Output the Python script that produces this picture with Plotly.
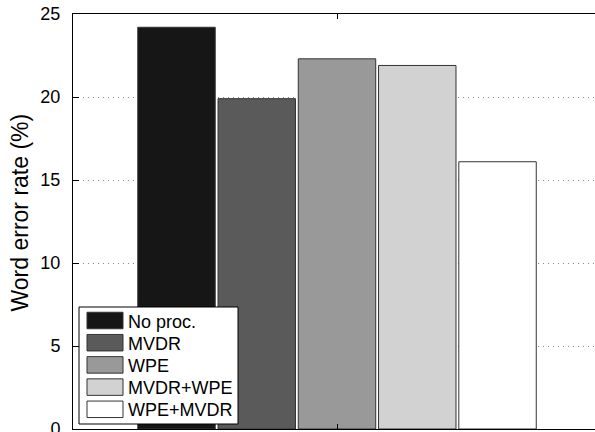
import plotly.graph_objects as go

# Word error rate per processing configuration
methods = ["No proc.", "MVDR", "WPE", "MVDR+WPE", "WPE+MVDR"]
wer = [24.2, 19.9, 22.3, 21.9, 16.1]
colors = ["#161616", "#5a5a5a", "#989998", "#d2d2d2", "#ffffff"]
y_ticks = [0, 5, 10, 15, 20, 25]

W, H = 595, 432
M_L, M_R, M_T, M_B = 73, 0, 14, 3
FONT = "Liberation Sans, Arial, Helvetica, sans-serif"

fig = go.Figure()
for name, val, col in zip(methods, wer, colors):
    fig.add_trace(go.Bar(
        x=[""], y=[val], name=name,
        marker=dict(color=col, line=dict(color="#333333", width=1)),
        showlegend=False,
    ))

# pixel -> paper helpers for the boxed legend
pw = W - M_L - M_R
ph = H - M_T - M_B


def px_x(px):
    return (px - M_L) / pw


def px_y(py):
    return (H - M_B - py) / ph


shapes = []
annotations = []

# legend frame
shapes.append(dict(type="rect", xref="paper", yref="paper",
                   x0=px_x(79), x1=px_x(238), y0=px_y(424), y1=px_y(307),
                   fillcolor="white", line=dict(color="black", width=1),
                   layer="above"))
row0, row_step, sw_h = 320.5, 22.2, 16.5
for i, (name, col) in enumerate(zip(methods, colors)):
    cy = row0 + i * row_step
    shapes.append(dict(type="rect", xref="paper", yref="paper",
                       x0=px_x(87), x1=px_x(123),
                       y0=px_y(cy + sw_h / 2), y1=px_y(cy - sw_h / 2),
                       fillcolor=col, line=dict(color="#333333", width=1),
                       layer="above"))
    annotations.append(dict(xref="paper", yref="paper", x=px_x(126), y=px_y(cy + 1),
                            text=name, showarrow=False, xanchor="left", yanchor="middle",
                            font=dict(family=FONT, size=18, color="black")))

# y-axis title
annotations.append(dict(xref="paper", yref="paper", x=px_x(19), y=px_y(212.5),
                        text="Word error rate (%)", textangle=-90, showarrow=False,
                        xanchor="center", yanchor="middle",
                        font=dict(family=FONT, size=23, color="black")))

fig.update_layout(
    width=W, height=H,
    margin=dict(l=M_L, r=M_R, t=M_T, b=M_B, pad=0, autoexpand=False),
    paper_bgcolor="white", plot_bgcolor="white",
    barmode="group", bargap=0.24, bargroupgap=0.035,
    showlegend=False,
    shapes=shapes, annotations=annotations,
    font=dict(family=FONT, size=18, color="black"),
)
fig.update_xaxes(
    type="category", range=[-0.5, 0.4886], automargin=False,
    showline=True, linecolor="black", linewidth=1, mirror="ticks",
    ticks="inside", ticklen=5, tickcolor="black",
    showticklabels=False, showgrid=False, zeroline=False,
)
fig.update_yaxes(
    range=[0, 25], tickvals=y_ticks, automargin=False,
    showline=True, linecolor="black", linewidth=1,
    ticks="inside", ticklen=6, tickcolor="black",
    ticklabelstandoff=8, ticklabeloverflow="allow",
    showgrid=True, gridcolor="#888888", gridwidth=1, griddash="1px,4px",
    zeroline=False,
    tickfont=dict(family=FONT, size=18, color="black"),
)

fig.write_html("out.html")
